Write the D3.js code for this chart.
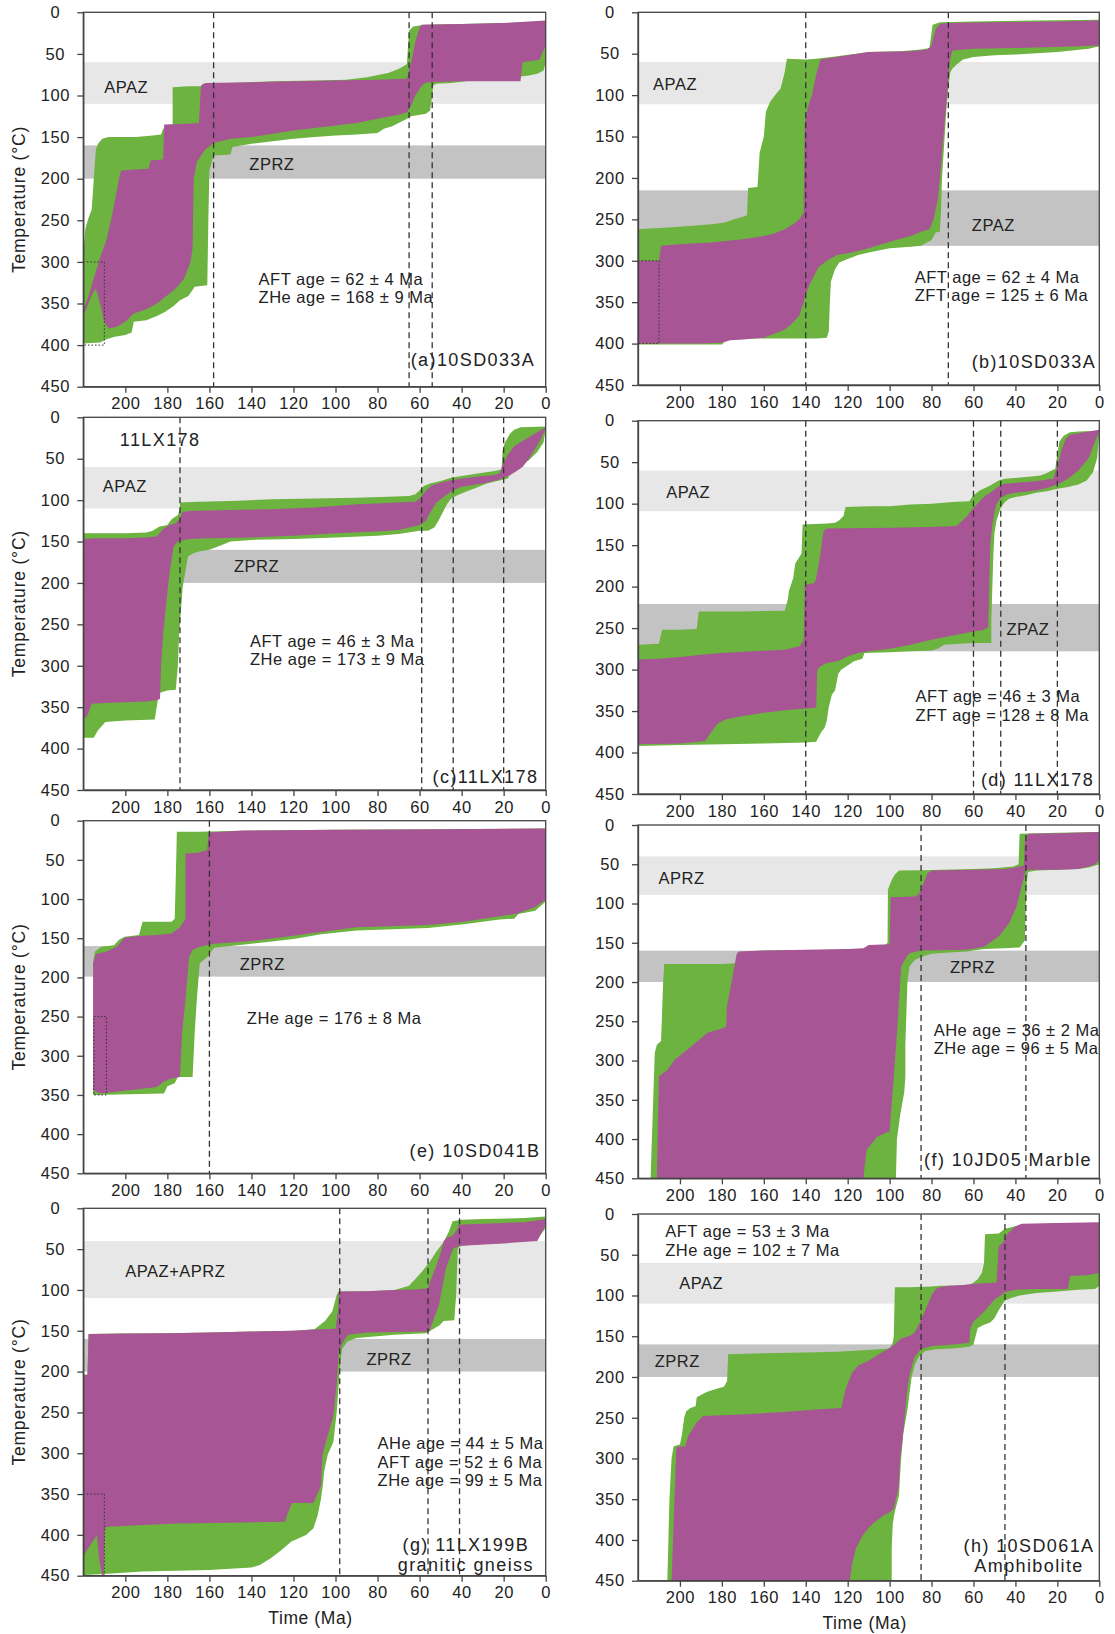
<!DOCTYPE html>
<html>
<head>
<meta charset="utf-8">
<script src="https://cdn.jsdelivr.net/npm/d3@7"></script>
<style>
  body { margin: 0; background: #fff; }
  svg { display: block; font-family: "Liberation Sans", Arial, sans-serif; }
</style>
</head>
<body>
<svg id="chart" width="1115" height="1634"></svg>
<script>
// axis values
const timeTicks = [200, 180, 160, 140, 120, 100, 80, 60, 40, 20, 0];
const tempTicks = [0, 50, 100, 150, 200, 250, 300, 350, 400, 450];

// ---- (a) 10SD033A ----  [time Ma, temperature C]
const aGreenTop = [[220,290],[219,260],[217.5,247],[216,237],[215,200],[214,165],[213,158],[211,152],[208,150],[195,150],[187,148],[183,147],[182,140],[179,137],[177.5,137],[177.5,90],[170,89],[164,89],[163,86],[150,85],[130,83],[110,82],[95,81],[85,78],[75,73],[70,68],[67,64],[66,62],[65.5,40],[65,22],[63,17],[58,15],[40,14],[20,13],[0,11]];
const aGreenBot = [[220,398],[212,397],[209,393],[205,390],[200,388],[197,385],[196,372],[190,370],[185,365],[181,360],[177,353],[174,346],[170,341],[167,330],[161,328],[160.5,250],[160,190],[158,172],[150,171],[149,162],[140,158],[120,152],[110,150],[100,148],[90,147],[80,145],[77,140],[73,137],[70,133],[66,128],[64,125],[57,122],[55,118],[54,100],[53.5,88],[52,86],[45,85],[35,82],[25,79],[15,78],[8,76],[4,74],[1,70],[0,60]];
const aMagTop = [[220,358],[218,345],[215,320],[212,295],[209,274],[206,240],[203,200],[202,190],[195,189],[189,188],[188,178],[182,177],[181.5,135],[170,134],[165,133],[164,88],[162,85],[140,84],[120,83],[100,82],[80,81],[66,80],[64,60],[62,35],[60,18],[59,15],[40,14],[20,13],[0,10]];
const aMagBot = [[220,365],[218,352],[216,340],[214,332],[212,350],[210,372],[208,380],[204,378],[200,372],[196,362],[190,357],[185,350],[180,340],[176,332],[172,320],[169,300],[168,283],[167.5,200],[166,180],[162,165],[158,157],[150,152],[140,150],[130,146],[120,142],[100,136],[90,133],[80,128],[70,123],[66,120],[64,112],[62,100],[60,92],[58,86],[56,84],[40,83],[20,83],[12,83],[11,60],[3,57],[0,40]];
const aZones = [['APAZ', 60, 110], ['ZPRZ', 160, 200]];
const aDashes = [158, 65, 54];
const aBox = [220, 210, 300, 400];
const aNotes = ['AFT age = 62 ± 4 Ma', 'ZHe age = 168 ± 9 Ma'];
const aName = ['(a)10SD033A'];

// ---- (b) 10SD033A ----
const bGreenTop = [[220,262],[200,259],[185,256],[179,254],[174,250],[170,247],[168,245],[167.5,212],[163,211],[162,170],[160,150],[159,120],[157,108],[154,98],[152,92],[150,72],[149,56],[140,57],[135,56],[125,53],[110,48],[95,47],[85,45],[81,43],[79.5,15],[76,12],[60,11],[30,10],[0,9]];
const bGreenBot = [[220,401],[180,401],[177,394],[150,394],[135,394],[130,393],[129,385],[128.5,350],[128,325],[126,310],[124,302],[120,298],[115,293],[110,290],[100,285],[90,283],[85,282],[80,275],[78,266],[76,265],[75.5,240],[75,200],[74,160],[73,120],[72,90],[71,72],[70,68],[68,63],[65,57],[60,54],[50,52],[40,51],[20,48],[5,44],[0,41]];
const bMagTop = [[220,300],[210,300],[209,282],[200,280],[185,278],[170,274],[160,270],[155,267],[150,262],[146,256],[143,250],[141,242],[140.5,135],[139,115],[137,100],[135,75],[133,57],[120,52],[110,48],[90,47],[82,45],[80,40],[78,20],[76,14],[72,13],[50,12],[20,11],[0,10]];
const bMagBot = [[220,400],[190,400],[180,399],[176,396],[170,395],[160,393],[155,388],[150,383],[147,377],[143,366],[142,357],[141,350],[140,340],[138,328],[136,318],[134,308],[130,300],[125,293],[118,290],[110,285],[100,277],[90,270],[84,264],[81,262],[79,250],[77,225],[76,200],[75,170],[74,140],[73,110],[72,80],[71,55],[70,46],[60,44],[40,43],[20,42],[0,40]];
const bZones = [['APAZ', 60, 111], ['ZPAZ', 215, 282]];
const bDashes = [140, 72];
const bBox = [220, 210, 300, 400];
const bNotes = ['AFT age = 62 ± 4 Ma', 'ZFT age = 125 ± 6 Ma'];
const bName = ['(b)10SD033A'];

// ---- (c) 11LX178 ----
const cGreenTop = [[220,140],[200,140],[190,139],[187,137],[184,132],[180,130],[178,123],[175,118],[174,110],[174,103],[165,102],[150,101],[130,99],[110,98],[90,97],[75,96],[65,95],[62,93],[60,88],[58,83],[55,80],[50,77],[45,73],[40,71],[30,67],[25,65],[21,63],[20.5,40],[19.5,31],[17,20],[15,15],[12,12],[0,11]];
const cGreenBot = [[220,387],[215,387],[213,378],[209.5,368],[200,366],[186,365],[184,333],[180,330],[176,329],[175,300],[174.4,261],[172.7,205],[170.2,168],[167.6,164],[165,162],[160,160],[155,155],[150,150],[140,148],[120,147],[100,145],[80,143],[70,141],[60,137],[56,137],[53,133],[51,125],[49,115],[47,105],[45,98],[42,94],[38,90],[33,85],[28,80],[23,77],[18,74],[16,64],[12,58],[8,52],[4,42],[1,30],[0,15]];
const cMagTop = [[220,147],[215,146],[200,146],[190,145],[185,144],[182,135],[179,130],[176,128],[174,122],[173,115],[170,113],[150,112],[130,111],[110,109],[100,107],[90,105],[80,104],[70,103],[62,102],[60,98],[58,92],[56,86],[54,82],[50,79],[45,76],[40,74],[30,71],[25,70],[22,68],[20,55],[18,45],[15,35],[12,30],[8,24],[4,18],[0,12]];
const cMagBot = [[220,365],[218,360],[216,346],[210,345],[200,344],[190,343],[186,342],[183.5,340],[183,300],[182,261],[180.4,221],[179,188],[177,156],[175,150],[170,147],[160,146],[140,145],[120,143],[100,140],[80,138],[70,136],[60,130],[57,125],[55,115],[52,103],[48,95],[44,88],[40,84],[30,80],[25,77],[22,75],[20,73],[17,70],[14,65],[11,60],[8,50],[5,38],[2,25],[0,13]];
const cZones = [['APAZ', 60, 110], ['ZPRZ', 160, 200]];
const cDashes = [174, 59, 44, 20];
const cNotes = ['AFT age = 46 ± 3 Ma', 'ZHe age = 173 ± 9 Ma'];
const cName = ['(c)11LX178'];
const cTitle = '11LX178';

// ---- (d) 11LX178 ----
const dGreenTop = [[220,270],[210,269],[208.5,252],[200,252],[192,251],[191,230],[170,230],[150,229],[148.5,215],[148,205],[146,190],[145,172],[142,160],[141.5,125],[130,124],[126,123],[124,120],[122,115],[121,104],[110,103],[100,103],[90,101],[80,100],[70,98],[62,97],[60,90],[57,84],[52,78],[48,72],[45,70],[35,68],[28,66],[25,63],[21,58],[20,40],[19,25],[17,18],[14,14],[10,13],[0,12]];
const dGreenBot = [[220,392],[200,391],[180,390],[160,389],[140,388],[135,387],[134,382],[132.5,375],[131,370],[130,362],[129,345],[127.5,330],[126,325],[124.5,305],[123,300],[120,295],[117,290],[113,287],[112,280],[100,279],[90,278],[80,277],[77,275],[74,270],[60,268],[51.5,268],[51.5,240],[51,200],[50.5,160],[50,135],[49,120],[47,105],[45,98],[43,94],[40,92],[35,90],[30,87],[25,85],[20,82],[15,80],[10,77],[6,72],[3,62],[1,45],[0,15]];
const dMagTop = [[220,288],[210,287],[200,285],[190,282],[180,280],[165,278],[150,276],[143,272],[141,265],[140.5,200],[139,197],[136,196],[135,190],[133,160],[131.5,133],[130,130],[100,129],[80,128],[68,127],[66,122],[63,115],[61,108],[58,100],[56,94],[54,90],[51,85],[48,79],[45,76],[40,75],[30,73],[25,71],[22,70],[20,55],[18,35],[16,22],[14,17],[10,15],[0,11]];
const dMagBot = [[220,390],[200,389],[188,386],[185,375],[182,365],[178,360],[170,356],[160,352],[150,349],[140,347],[135,346],[134.5,300],[133,296],[130,292],[125,290],[123,288],[120,284],[115,280],[110,278],[100,275],[90,270],[80,264],[70,259],[60,254],[55,252],[53,249],[52.5,200],[52,150],[51,125],[50,110],[49,100],[47,93],[44,89],[40,87],[30,84],[25,81],[20,77],[15,70],[10,60],[5,45],[2,25],[0,12]];
const dZones = [['APAZ', 60, 109], ['ZPAZ', 221, 278]];
const dDashes = [140, 60, 47, 20];
const dNotes = ['AFT age = 46 ± 3 Ma', 'ZFT age = 128 ± 8 Ma'];
const dName = ['(d) 11LX178'];

// ---- (e) 10SD041B ----
const eGreenTop = [[215.3,180],[214.5,167],[211.4,161],[205.4,159],[203,152],[200.3,148],[193.5,146],[191.8,129],[178,129],[176.5,125],[175.7,40],[175.5,14],[165,14],[150,13],[100,11.5],[50,11],[0,10]];
const eGreenBot = [[215.3,350],[181.6,348],[180,339],[176.5,335],[175,327],[168,327],[167,271],[166,229],[164.6,182],[161,174],[157.8,162],[140,157],[120,151],[106.8,145],[90,140],[56,137],[39,132],[22,126],[15,125],[13,119],[5,115],[0,103]];
const eMagTop = [[215.3,182],[214,170],[209,167],[204,161],[200.3,149],[193.5,147],[185,146],[178,144],[174,136],[171.4,125],[171.4,42],[165,41],[161,37],[160.4,15],[144,12.5],[100,11.5],[50,11],[0,10]];
const eMagBot = [[215.3,344],[212,348],[192,342],[185,340],[181.6,333],[178,329],[174,327],[173,271],[171.4,229],[169.7,174],[168,165],[164.6,161],[157.8,157],[140.8,154],[123.8,148],[106.8,142],[90,136],[56,133],[39,129],[22,122],[13,118],[5,110],[0,101]];
const eZones = [['ZPRZ', 160, 199]];
const eDashes = [160];
const eBox = [215, 209, 250, 350];
const eNotes = ['ZHe age = 176 ± 8 Ma'];
const eName = ['(e) 10SD041B'];

// ---- (f) 10JD05 Marble ----
const fGreenTop = [[214,450],[213,370],[212,290],[211,280],[209,275],[208,200],[207.5,177],[180,177],[173.5,176],[172.5,162],[160,160],[140,159.5],[120,158.5],[110,157.5],[105,156],[102,153],[101,150],[100.8,82],[99,70],[97.5,63],[95.5,58],[85,57.5],[75,57],[60,56],[50,55],[41,53],[38.5,50],[38,11],[20,10],[0,9]];
const fGreenBot = [[214,450],[97,450],[96.5,400],[95,370],[94,355],[93,340],[92.5,320],[92.5,280],[92,240],[91.5,200],[90.5,180],[88,172],[85,168],[80,164],[70,162],[63,161],[55,158],[45,157],[38,156],[35.5,147],[35,100],[34.5,70],[34,60],[30,58],[20,57],[10,56],[5,54],[0,50]];
const fMagTop = [[211,450],[210.5,380],[210,320],[206,312],[202.5,299],[195,283],[187,265],[181,260],[178,257],[177.5,230],[175,195],[173,165],[172,161],[160,160],[140,159],[120,158],[112.5,157],[110,153],[100,152],[99.5,92],[88,91],[86,88],[84,75],[82,62],[80,58],[60,57],[45,56],[40,54],[36,52],[35.5,20],[34,11],[20,10.5],[0,9]];
const fMagBot = [[112.5,450],[111,414],[106,397],[100,390],[98,320],[96.5,265],[94.5,180],[92,168],[90.4,163],[85,160],[63,159],[55,155],[48,142],[43,125],[39.5,104],[37,78],[35,57],[30,57],[20,57],[10,56],[5,53],[2,50],[0,45]];
const fZones = [['APRZ', 40, 89], ['ZPRZ', 160, 200]];
const fDashes = [85, 35];
const fNotes = ['AHe age = 36 ± 2 Ma', 'ZHe age = 96 ± 5 Ma'];
const fName = ['(f) 10JD05 Marble'];

// ---- (g) 11LX199B ----
const gGreenTop = [[220,204],[218,204],[217.5,154],[200,153.5],[180,153],[160,152],[140,151],[120,150],[110,148],[105,138],[101.5,126],[99.4,106],[98.5,102],[85,101.5],[72,100],[65,95],[59,78],[55,65],[52,53],[48.5,41],[46,28],[44.3,16],[40,14],[30,13],[10,12],[0,10]];
const gGreenBot = [[220,449],[210,448],[192,445],[160,443],[140,440],[136,437],[131,429],[126,419],[121,408],[114,400],[110.5,392],[108.5,376],[107,357],[106,339],[105.4,322],[103.7,302],[101,286],[99.4,249],[98.5,216],[97.7,188],[96.8,172],[94.3,163],[90,159],[72,155],[57,153],[55.4,151],[50.3,143],[48.6,138],[43.5,137],[42.6,106],[41.8,49],[40,46],[21,42],[4,38],[0,24]];
const gMagTop = [[220,204],[218,204],[217.5,154],[200,153.5],[180,153],[160,152],[140,151],[120,150],[110,148.5],[100,147.5],[98.8,125],[98.5,102],[85,101.5],[72,100],[62,99.5],[56,98],[55,90],[52,70],[50,55],[48.5,40],[47,36],[44,33],[42,25],[41.5,20],[30,19],[10,17],[0,13]];
const gMagBot = [[220,426],[218,418],[216,410],[213.5,400],[212.5,430],[211,450],[210.3,450],[209.8,395],[209,390],[200,389],[192,388],[175,386],[150,385],[124,384],[123,375],[120.7,361],[110.5,361],[107,340],[106.2,302],[103.7,278],[101,254],[99.4,213],[98.5,176],[96.3,163],[94,155],[85,152],[70,151.5],[55.4,151],[50.8,118],[47.4,73],[44,49],[40.6,46],[20,43],[4,40],[0,20]];
const gZones = [['APAZ+APRZ', 40, 110], ['ZPRZ', 160, 200]];
const gDashes = [98, 56, 41];
const gBox = [220, 210, 350, 450];
const gNotes = ['AHe age = 44 ± 5 Ma', 'AFT age = 52 ± 6 Ma', 'ZHe age = 99 ± 5 Ma'];
const gName = ['(g) 11LX199B', 'granitic gneiss'];

// ---- (h) 10SD061A ----
const hGreenTop = [[206,450],[205.5,400],[205,350],[204,300],[203,285],[200,283],[199,270],[198,250],[197,242],[195,238],[192.5,236],[192,225],[190,222],[187,218],[182,214],[179,212],[177.5,205],[177,172],[160,171],[140,170],[125,169],[110,167],[100,165],[98.5,158],[98,150],[97.5,90],[90,90],[80,89],[76,88],[70,88],[62,87],[60,84],[58,80],[56,72],[55,60],[54.5,25],[48,24],[47,22],[45,18],[40,15],[35,13],[25,12],[0,11]];
const hGreenBot = [[206,450],[99,450],[99,410],[98.5,380],[97.5,365],[95.5,345],[95,320],[94.5,300],[93.5,270],[92.5,255],[91.5,240],[90.5,220],[89.5,200],[88,185],[86,175],[83,168],[78,166],[70,165],[62,163],[60,160],[59,150],[58,140],[55,136],[52,133],[50,128],[48,118],[46,110],[45,106],[42,103],[38,100],[30,97],[20,95],[10,93],[2,92],[0,88]];
const hMagTop = [[204,450],[203,380],[202,310],[201.7,286],[197.5,285],[196,272],[192,256],[189,248],[170,246],[150,243],[135,240],[123,238],[121,215],[118,195],[115,186],[110,180],[105.7,173],[99,163],[94.6,153],[90,149],[88,145],[85,130],[83,118],[80,100],[78,92],[76,90],[72,88],[65,87],[61,86],[55,85],[49,84],[48,40],[46,35],[44,25],[40,15],[37,12],[20,11],[0,10]];
const hMagBot = [[119,450],[118,430],[116,410],[113,395],[110,385],[107,378],[103,370],[100,366],[98,362],[97,350],[96,340],[95.5,330],[95,300],[94,280],[93,255],[92,225],[91,205],[90,192],[88,175],[85,166],[80,162],[70,160],[62,158],[61.5,140],[60,132],[55,120],[50,105],[47,100],[45,96],[40,93],[30,92],[15,92],[14,76],[5,75],[0,72]];
const hZones = [['APAZ', 60, 110], ['ZPRZ', 160, 200]];
const hDashes = [85, 45];
const hNotes = ['AFT age = 53 ± 3 Ma', 'ZHe age = 102 ± 7 Ma'];
const hName = ['(h) 10SD061A', 'Amphibolite'];

// panel layout: frame = [left, right, top, bottom] in px, label anchors in data units
const panels = [
  { green: [aGreenTop, aGreenBot], mag: [aMagTop, aMagBot], zones: aZones, dashes: aDashes, box: aBox, notes: aNotes, name: aName,
    frame: [83.3, 545.7, 12.3, 386.7], zoneAt: [[210, 90], [141, 182]], notesAt: [136.6, 320], nameAt: [5, 418], nameAnchor: 'end', yLabel: true },
  { green: [bGreenTop, bGreenBot], mag: [bMagTop, bMagBot], zones: bZones, dashes: bDashes, box: bBox, notes: bNotes, name: bName,
    frame: [638, 1099.3, 12.3, 385], zoneAt: [[212.8, 86], [60.8, 257]], notesAt: [88, 319], nameAt: [1.5, 422], nameAnchor: 'end' },
  { green: [cGreenTop, cGreenBot], mag: [cMagTop, cMagBot], zones: cZones, dashes: cDashes, notes: cNotes, name: cName, title: cTitle,
    frame: [83.3, 545.7, 417.3, 790], zoneAt: [[210.7, 83], [148.3, 179]], notesAt: [140.7, 270], nameAt: [3.5, 434], nameAnchor: 'end', titleAt: [202.6, 27], yLabel: true },
  { green: [dGreenTop, dGreenBot], mag: [dMagTop, dMagBot], zones: dZones, dashes: dDashes, notes: dNotes, name: dName,
    frame: [638, 1099.3, 420.7, 794], zoneAt: [[206.5, 86], [44.3, 251.5]], notesAt: [87.6, 332], nameAt: [2.5, 433], nameAnchor: 'end' },
  { green: [eGreenTop, eGreenBot], mag: [eMagTop, eMagBot], zones: eZones, dashes: eDashes, box: eBox, notes: eNotes, name: eName,
    frame: [83.3, 545.7, 820.7, 1173.3], zoneAt: [[145.6, 183]], notesAt: [142.2, 252], nameAt: [2.5, 421], nameAnchor: 'end', yLabel: true },
  { green: [fGreenTop, fGreenBot], mag: [fMagTop, fMagBot], zones: fZones, dashes: fDashes, notes: fNotes, name: fName,
    frame: [638, 1099.3, 825, 1178.3], zoneAt: [[210.2, 67], [71.2, 181]], notesAt: [79, 261], nameAt: [3.5, 426.6], nameAnchor: 'end' },
  { green: [gGreenTop, gGreenBot], mag: [gMagTop, gMagBot], zones: gZones, dashes: gDashes, box: gBox, notes: gNotes, name: gName,
    frame: [83.3, 545.7, 1208.3, 1575.7], zoneAt: [[200, 77], [85.3, 185]], notesAt: [80, 288], nameAt: [38, 412], nameAnchor: 'middle', yLabel: true, xLabel: true },
  { green: [hGreenTop, hGreenBot], mag: [hMagTop, hMagBot], zones: hZones, dashes: hDashes, notes: hNotes, name: hName,
    frame: [638, 1099.3, 1214, 1580.7], zoneAt: [[200.3, 85], [212, 181]], notesAt: [207, 21], nameAt: [33.5, 408], nameAnchor: 'middle', xLabel: true }
];

const green = '#6cb33f', magenta = '#a75594';
const svg = d3.select('#chart');
const defs = svg.append('defs');

panels.forEach((p, i) => {
    const [x0, x1, y0, y1] = p.frame;
    const x = d3.scaleLinear().domain([220, 0]).range([x0, x1]);
    const y = d3.scaleLinear().domain([0, 450]).range([y0, y1]);
    const line = d3.line().x((d) => x(d[0])).y((d) => y(d[1]));

    defs.append('clipPath').attr('id', 'clip' + i)
        .append('rect').attr('x', x0).attr('y', y0).attr('width', x1 - x0).attr('height', y1 - y0);

    const g = svg.append('g');
    const inner = g.append('g').attr('clip-path', 'url(#clip' + i + ')');

    // closure temperature zones
    inner.selectAll('rect.zone')
        .data(p.zones)
        .enter().append('rect')
        .attr('class', 'zone')
        .attr('x', x(220)).attr('width', x(0) - x(220))
        .attr('y', (d) => y(d[1]))
        .attr('height', (d) => y(d[2]) - y(d[1]))
        .attr('fill', (d) => d[0][0] === 'Z' ? '#c3c3c3' : '#e7e7e7');

    // envelopes: acceptable (green) then good (magenta)
    [[p.green, green], [p.mag, magenta]].forEach(([env, col]) => {
        inner.append('path')
            .attr('d', line(env[0].concat(env[1].slice().reverse())) + 'Z')
            .attr('fill', col);
    });

    // dashed age lines
    inner.selectAll('line.age')
        .data(p.dashes)
        .enter().append('line')
        .attr('x1', (d) => x(d)).attr('x2', (d) => x(d))
        .attr('y1', y0).attr('y2', y1)
        .attr('stroke', '#333').attr('stroke-width', 1.3)
        .attr('stroke-dasharray', '6,4');

    // constraint box
    if (p.box) {
        inner.append('rect')
            .attr('x', x(p.box[0])).attr('width', x(p.box[1]) - x(p.box[0]))
            .attr('y', y(p.box[2])).attr('height', y(p.box[3]) - y(p.box[2]))
            .attr('fill', 'none').attr('stroke', '#333').attr('stroke-width', 1)
            .attr('stroke-dasharray', '1.5,2');
    }

    // axes
    const xAxis = g.append('g')
        .attr('transform', 'translate(0,' + y1 + ')')
        .call(d3.axisBottom(x).tickValues(timeTicks).tickSize(6).tickSizeOuter(0).tickPadding(5));
    const yAxis = g.append('g')
        .attr('transform', 'translate(' + x0 + ',0)')
        .call(d3.axisLeft(y).tickValues(tempTicks).tickSize(6).tickSizeOuter(0));
    yAxis.selectAll('text').attr('x', -28).attr('text-anchor', 'middle');
    [xAxis, yAxis].forEach((a) => {
        a.selectAll('text').attr('font-size', 16.5).attr('fill', '#222')
            .attr('font-family', '"Liberation Sans", Arial, sans-serif').style('letter-spacing', '0.6px');
        a.selectAll('line').attr('stroke', '#444').attr('stroke-width', 1.3);
        a.select('.domain').attr('stroke', '#444').attr('stroke-width', 1.3);
    });

    g.append('rect')
        .attr('x', x0).attr('y', y0).attr('width', x1 - x0).attr('height', y1 - y0)
        .attr('fill', 'none').attr('stroke', '#444').attr('stroke-width', 1.3);

    // texts
    const txt = (tx, ty, s, size, anchor) => g.append('text')
        .attr('x', tx).attr('y', ty).attr('dominant-baseline', 'central')
        .attr('text-anchor', anchor || 'start')
        .attr('font-size', size).attr('fill', '#222')
        .style('letter-spacing', size > 17 ? '1.4px' : '0.5px')
        .text(s);

    p.zones.forEach((z, k) => txt(x(p.zoneAt[k][0]), y(p.zoneAt[k][1]), z[0], 16.5));
    p.notes.forEach((s, k) => txt(x(p.notesAt[0]), y(p.notesAt[1]) + k * 18.5, s, 16.5));
    p.name.forEach((s, k) => txt(x(p.nameAt[0]), y(p.nameAt[1]) + k * 20, s, 18, p.nameAnchor));
    if (p.title) txt(x(p.titleAt[0]), y(p.titleAt[1]), p.title, 18);

    if (p.yLabel) {
        g.append('text')
            .attr('transform', 'translate(19,' + (y0 + y1) / 2 + ') rotate(-90)')
            .attr('text-anchor', 'middle').attr('dominant-baseline', 'central')
            .attr('font-size', 17.5).attr('fill', '#222').style('letter-spacing', '0.8px')
            .text('Temperature (°C)');
    }
    if (p.xLabel) {
        g.append('text')
            .attr('x', (x0 + x1) / 2 - 4).attr('y', y1 + 42)
            .attr('text-anchor', 'middle').attr('dominant-baseline', 'central')
            .attr('font-size', 17.5).attr('fill', '#222').style('letter-spacing', '0.6px')
            .text('Time (Ma)');
    }
});
</script>
</body>
</html>
